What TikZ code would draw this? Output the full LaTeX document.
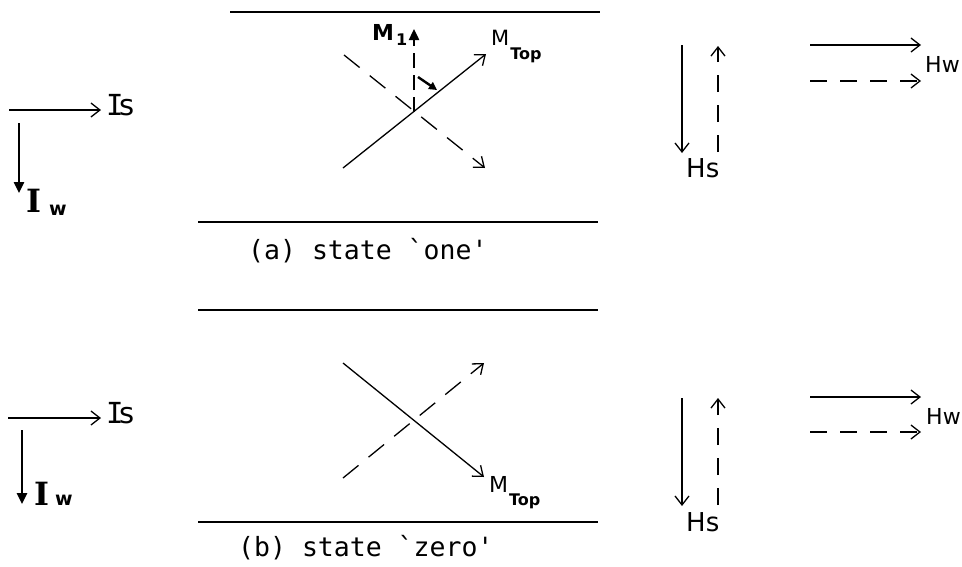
\documentclass[tikz,border=0pt]{standalone}
\usepackage{fontspec}
\setmainfont{DejaVu Sans}
\newfontfamily\capfont{DejaVu Sans Mono}
\newfontfamily\serfont{DejaVu Serif}
\usetikzlibrary{arrows.meta}
\begin{document}
\begin{tikzpicture}[x=1pt,y=-1pt,
 vec/.style={line width=1.3pt,-{Straight Barb[length=9pt,width=14pt]}},
 dvec/.style={vec,dash pattern=on 17pt off 13pt},
 ddvec/.style={vec,dash pattern=on 20pt off 13pt},
 bvec/.style={line width=2.4pt,-{Triangle[length=11pt,width=10pt]}},
 bdvec/.style={bvec,dash pattern=on 15pt off 7pt},
 wall/.style={line width=2pt},
 lbl/.style={inner sep=0pt,anchor=base west},
 mlbl/.style={inner sep=0pt,anchor=base west,font=\bfseries\fontsize{22}{22}\selectfont},
 iwlbl/.style={inner sep=0pt,anchor=base west},
 captext/.style={inner sep=0pt,anchor=base west,font=\capfont\fontsize{26.5}{26.5}\selectfont}]
\useasboundingbox (0,0) rectangle (962,566);

% ---------- panel (a) ----------
\coordinate (aw1) at (230,12);  \coordinate (aw2) at (600,12);
\coordinate (aw3) at (198,222); \coordinate (aw4) at (598,222);
\draw[wall] (aw1) -- (aw2);
\draw[wall] (aw3) -- (aw4);

\coordinate (as0) at (343,168); \coordinate (as1) at (486,54);
\coordinate (ad0) at (344,55);  \coordinate (ad1) at (485,168);
\draw[vec] (as0) -- (as1);
\draw[ddvec] (ad0) -- (ad1);
\coordinate (am0) at (414,112); \coordinate (am1) at (414,29);
\draw[bdvec] (am0) -- (am1);
\coordinate (ar0) at (418,77); \coordinate (ar1) at (437,90);
\draw[line width=2.4pt,-{Triangle[length=8pt,width=8pt]}] (ar0) -- (ar1);

\node[lbl] (mtopa) at (491,45) {\fontsize{21}{21}\selectfont M\hspace{1pt}\raisebox{-14pt}{\bfseries\fontsize{16}{16}\selectfont Top}};
\node[mlbl] (m1) at (372,40) {M\hspace{2pt}\raisebox{-5pt}{\fontsize{16}{16}\selectfont 1}};
\node[captext] (capa) at (248,259) {(a) state `one'};

% left (a)
\coordinate (ia0) at (9,110); \coordinate (ia1) at (101,110);
\draw[vec] (ia0) -- (ia1);
\node[lbl,font=\fontsize{29}{29}\selectfont] (isa) at (106,115) {{\capfont I}\hspace{-4pt}s};
\coordinate (iw0) at (19,123); \coordinate (iw1) at (19,193);
\draw[bvec] (iw0) -- (iw1);
\node[iwlbl] (iwa) at (26,212) {\serfont\bfseries\fontsize{32}{32}\selectfont I\hspace{8pt}\raisebox{-3pt}{\normalfont\bfseries\fontsize{19}{19}\selectfont w}};

% right (a)
\coordinate (hsa0) at (682,45);  \coordinate (hsa1) at (682,153);
\coordinate (hsa2) at (718,152); \coordinate (hsa3) at (718,46);
\draw[vec] (hsa0) -- (hsa1);
\draw[dvec] (hsa2) -- (hsa3);
\node[lbl,font=\fontsize{26}{26}\selectfont] (hsa) at (686,177) {Hs};
\coordinate (hwa0) at (810,45); \coordinate (hwa1) at (921,45);
\coordinate (hwa2) at (810,81); \coordinate (hwa3) at (921,81);
\draw[vec] (hwa0) -- (hwa1);
\draw[dvec] (hwa2) -- (hwa3);
\node[lbl,font=\fontsize{22}{22}\selectfont] (hwa) at (925,72) {Hw};

% ---------- panel (b) ----------
\coordinate (bw1) at (198,310); \coordinate (bw2) at (598,310);
\coordinate (bw3) at (198,522); \coordinate (bw4) at (598,522);
\draw[wall] (bw1) -- (bw2);
\draw[wall] (bw3) -- (bw4);

\coordinate (bs0) at (343,363); \coordinate (bs1) at (484,477);
\coordinate (bd0) at (343,478); \coordinate (bd1) at (484,363);
\draw[vec] (bs0) -- (bs1);
\draw[ddvec] (bd0) -- (bd1);
\node[lbl] (mtopb) at (489,492) {\fontsize{22}{22}\selectfont M\hspace{1pt}\raisebox{-13pt}{\bfseries\fontsize{16}{16}\selectfont Top}};
\node[captext] (capb) at (238,556) {(b) state `zero'};

% left (b)
\coordinate (ib0) at (8,418); \coordinate (ib1) at (101,418);
\draw[vec] (ib0) -- (ib1);
\node[lbl,font=\fontsize{29}{29}\selectfont] (isb) at (106,423) {{\capfont I}\hspace{-4pt}s};
\coordinate (iwb0) at (22,430); \coordinate (iwb1) at (22,504);
\draw[bvec] (iwb0) -- (iwb1);
\node[iwlbl] (iwb) at (34,505) {\serfont\bfseries\fontsize{32}{32}\selectfont I\hspace{6pt}{\normalfont\bfseries\fontsize{19}{19}\selectfont w}};

% right (b)
\coordinate (hsb0) at (682,398); \coordinate (hsb1) at (682,506);
\coordinate (hsb2) at (718,505); \coordinate (hsb3) at (718,398);
\draw[vec] (hsb0) -- (hsb1);
\draw[dvec] (hsb2) -- (hsb3);
\node[lbl,font=\fontsize{26}{26}\selectfont] (hsb) at (686,531) {Hs};
\coordinate (hwb0) at (810,397); \coordinate (hwb1) at (921,397);
\coordinate (hwb2) at (810,432); \coordinate (hwb3) at (921,432);
\draw[vec] (hwb0) -- (hwb1);
\draw[dvec] (hwb2) -- (hwb3);
\node[lbl,font=\fontsize{22}{22}\selectfont] (hwb) at (926,424) {Hw};
\end{tikzpicture}
\end{document}
